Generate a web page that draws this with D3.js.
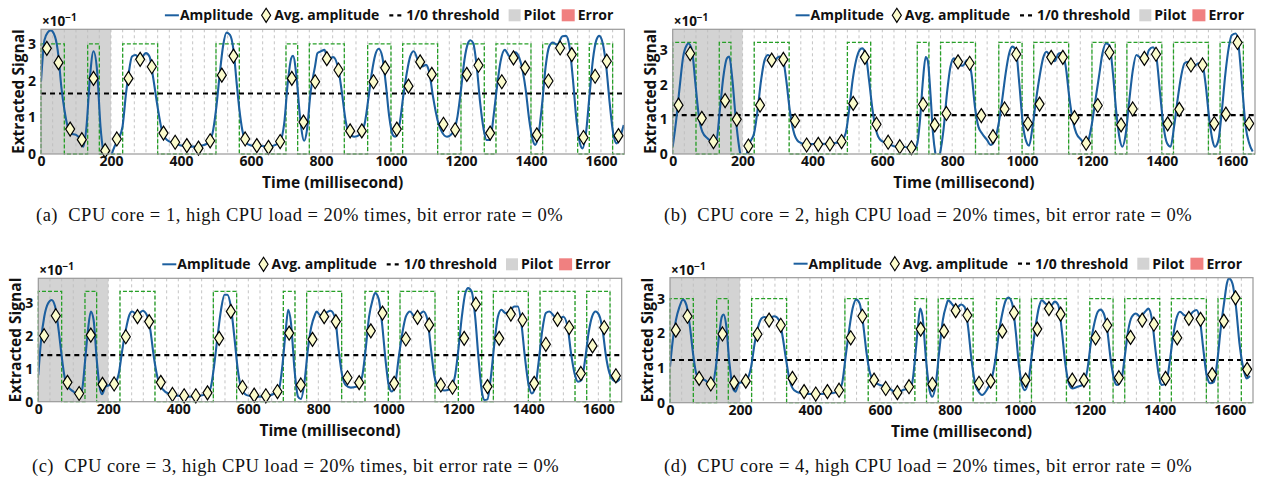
<!DOCTYPE html>
<html><head><meta charset="utf-8">
<script src="https://cdn.jsdelivr.net/npm/d3@7"></script>
<style>
body{margin:0;background:#fff}
svg text{font-family:"Open Sans",Lato,sans-serif;font-weight:bold;fill:#111}
svg text.cap{font-family:"Liberation Serif","DejaVu Serif",serif;font-weight:normal;white-space:pre;letter-spacing:0.5px}
</style></head>
<body><svg id="c" width="1262" height="481"></svg>
<script>
// ---------------- data ----------------
const bitMs = 1000/30;
const xTicks = [0,200,400,600,800,1000,1200,1400,1600];
const yTicks = [0,1,2,3];
const pilotEnd = 200;
const bits = [1,1,0,0,1,0,0,1,1,1, 0,0,0,0,0,1,1,0,0,0, 0,1,0,1,1,1,0,0,1,1, 0,1,1,1,0,0,1,1,0,1, 1,1,0,1,1,1,0,1,1,0];
const captions = [
 "(a)  CPU core = 1, high CPU load = 20% times, bit error rate = 0%",
 "(b)  CPU core = 2, high CPU load = 20% times, bit error rate = 0%",
 "(c)  CPU core = 3, high CPU load = 20% times, bit error rate = 0%",
 "(d)  CPU core = 4, high CPU load = 20% times, bit error rate = 0%"];
const thresholds = [1.65, 1.125, 1.42, 1.23];
const highLevels = [3.0, 3.22, 3.36, 3.0];
const yMax = [3.4, 3.6, 3.76, 3.6];

const avgA = [2.88,2.49,0.68,0.39,2.06,0.09,0.41,2.06,2.58,2.38, 0.57,0.32,0.23,0.16,0.36,2.15,2.67,0.41,0.23,0.18, 0.34,2.06,0.87,1.97,2.6,2.29,0.63,0.63,1.97,2.35, 0.68,1.85,2.51,2.17,0.81,0.66,2.17,2.42,0.57,1.97, 2.62,2.35,0.52,1.99,2.89,2.71,0.45,2.12,2.53,0.5];
const avgB = [1.41,2.9,1.03,0.36,1.54,1.0,0.23,1.41,2.71,2.73, 0.96,0.26,0.28,0.29,0.36,1.46,2.79,0.86,0.34,0.21, 0.18,1.43,0.84,1.17,2.66,2.62,1.11,0.5,1.3,2.88, 0.88,1.44,2.79,2.79,1.05,0.31,1.4,2.93,0.84,1.3, 2.76,2.88,0.87,1.29,2.57,2.57,0.88,1.15,3.22,0.88];
const avgC = [2.01,2.62,0.59,0.25,2.03,0.53,0.54,1.98,2.59,2.44, 0.59,0.22,0.18,0.18,0.27,1.93,2.75,0.44,0.2,0.18, 0.31,2.09,0.51,1.9,2.59,2.44,0.73,0.58,2.16,2.7, 0.56,1.91,2.57,2.34,0.51,0.44,1.93,2.97,0.46,1.93, 2.67,2.49,0.56,1.75,2.51,2.26,0.86,1.7,2.26,0.79];
const avgD = [2.09,2.49,0.7,0.54,1.98,0.58,0.62,1.97,2.38,2.23, 0.7,0.32,0.25,0.32,0.36,1.87,2.49,0.65,0.41,0.29, 0.46,2.12,0.53,2.06,2.65,2.52,0.56,0.62,2.06,2.59, 0.65,2.12,2.71,2.55,0.65,0.65,1.87,2.23,0.72,1.88, 2.38,2.26,0.7,1.87,2.43,2.4,0.81,2.35,3.02,0.96];

const ampA = [[0,1.98],[10,3.11],[20,3.32],[28,3.37],[40,3.2],[50,2.66],[58,1.84],[67,1.2],[75,0.79],[85,0.56],[100,0.52],[110,0.43],[121,0.2],[130,0.75],[140,2.11],[150,2.8],[160,2.3],[170,0.75],[180,-0.07],[190,-0.4],[200,-0.07],[210,0.2],[220,0.38],[233,0.75],[243,1.66],[250,2.16],[260,2.66],[270,2.7],[283,2.59],[300,2.75],[310,2.66],[320,2.11],[333,1.29],[345,0.66],[360,0.38],[380,0.29],[400,0.23],[420,0.2],[440,0.2],[460,0.23],[475,0.29],[490,0.56],[500,1.2],[510,2.11],[520,2.93],[530,3.31],[540,3.25],[550,2.84],[560,1.84],[567,1.2],[575,0.66],[590,0.27],[610,0.22],[630,0.22],[650,0.2],[670,0.25],[685,0.38],[695,0.84],[705,1.93],[715,2.61],[720,2.68],[730,2.11],[740,1.02],[752,0.36],[760,0.66],[770,1.66],[783,2.39],[790,2.75],[800,2.8],[810,2.84],[820,2.57],[835,2.64],[850,2.3],[860,1.66],[870,0.93],[880,0.56],[895,0.47],[910,0.52],[925,0.84],[935,1.48],[945,2.2],[955,2.7],[965,2.87],[975,2.66],[985,1.93],[995,1.02],[1005,0.52],[1012,0.47],[1025,0.84],[1035,1.57],[1045,2.2],[1055,2.66],[1065,2.8],[1080,2.48],[1090,2.39],[1100,2.43],[1110,2.2],[1120,1.57],[1133,0.93],[1145,0.61],[1160,0.47],[1175,0.56],[1190,1.02],[1200,1.75],[1210,2.57],[1220,3.02],[1227,3.1],[1235,3.02],[1245,2.39],[1255,1.38],[1265,0.66],[1273,0.38],[1283,0.38],[1293,1.02],[1303,1.84],[1313,2.52],[1325,2.84],[1340,2.66],[1355,2.77],[1370,2.52],[1385,1.75],[1395,0.93],[1405,0.38],[1412,0.25],[1422,0.56],[1432,1.38],[1442,2.39],[1452,2.93],[1462,3.04],[1475,2.98],[1490,3.21],[1500,3.22],[1510,2.93],[1520,2.02],[1530,0.93],[1540,0.29],[1547,0.15],[1557,0.56],[1567,1.57],[1577,2.57],[1587,3.11],[1595,3.22],[1605,3.02],[1615,2.39],[1625,1.38],[1635,0.56],[1645,0.29],[1655,0.47],[1665,0.79]];
const ampB = [[0,0.21],[10,0.98],[20,1.94],[30,2.81],[40,3.14],[45,3.19],[55,3.0],[65,2.04],[75,1.08],[85,0.64],[100,0.45],[115,0.36],[125,0.4],[135,1.27],[145,2.23],[155,2.76],[162,2.81],[170,2.23],[180,1.08],[190,0.21],[195,-0.08],[205,-0.4],[212,0],[220,0.31],[233,0.6],[243,1.27],[253,2.13],[263,2.71],[273,2.86],[290,2.71],[305,2.81],[315,2.76],[325,2.13],[335,1.27],[345,0.69],[360,0.36],[380,0.29],[420,0.29],[460,0.31],[480,0.36],[495,0.6],[505,1.27],[515,2.13],[525,2.71],[535,3.0],[542,3.05],[552,2.9],[562,2.13],[572,1.27],[582,0.69],[595,0.4],[615,0.31],[640,0.21],[660,0.21],[680,0.16],[690,0.12],[700,0.3],[708,1.0],[716,2.1],[724,2.8],[730,2.7],[738,1.7],[745,0.6],[752,0.0],[758,-0.3],[765,0],[775,0.69],[785,1.75],[795,2.52],[805,2.76],[818,2.57],[830,2.55],[843,2.71],[855,2.33],[865,1.37],[875,0.79],[885,0.6],[900,0.4],[910,0.26],[920,0.36],[933,0.88],[943,1.56],[953,2.33],[963,2.9],[972,3.1],[982,3.0],[992,2.04],[1002,0.88],[1012,0.36],[1020,0.24],[1030,0.79],[1040,1.56],[1050,2.23],[1060,2.76],[1070,2.95],[1083,2.76],[1093,2.68],[1105,2.9],[1115,2.92],[1125,2.52],[1135,1.65],[1145,0.98],[1155,0.6],[1170,0.4],[1180,0.26],[1190,0.4],[1200,0.88],[1210,1.56],[1220,2.23],[1230,2.9],[1240,3.19],[1250,3.14],[1260,2.33],[1270,1.17],[1280,0.4],[1287,0.21],[1297,0.6],[1307,1.56],[1317,2.42],[1327,2.86],[1340,2.76],[1353,2.71],[1363,3.0],[1375,3.08],[1385,2.76],[1395,1.75],[1405,0.79],[1415,0.31],[1425,0.21],[1435,0.79],[1445,1.56],[1455,2.23],[1465,2.62],[1475,2.66],[1490,2.52],[1505,2.62],[1515,2.62],[1525,2.04],[1535,1.08],[1545,0.4],[1552,0.21],[1562,0.4],[1572,1.27],[1582,2.33],[1592,3.1],[1600,3.43],[1612,3.48],[1620,3.1],[1630,1.94],[1640,0.79],[1650,0.31],[1660,0.07]];
const ampC = [[0,0.81],[8,1.88],[17,2.59],[28,3.0],[38,3.1],[48,2.9],[58,2.19],[67,1.37],[75,0.76],[85,0.46],[100,0.31],[115,0.2],[125,0.36],[133,1.17],[142,2.19],[150,2.75],[158,2.49],[167,1.27],[175,0.46],[182,0.23],[192,0.46],[205,0.51],[218,0.56],[230,0.86],[240,1.58],[250,2.19],[260,2.64],[268,2.75],[283,2.64],[298,2.77],[310,2.64],[320,2.19],[330,1.37],[340,0.76],[355,0.38],[375,0.23],[400,0.18],[430,0.15],[460,0.18],[480,0.23],[492,0.41],[502,1.07],[512,1.98],[522,2.8],[532,3.26],[540,3.26],[550,2.9],[560,1.98],[570,0.97],[580,0.41],[595,0.2],[620,0.15],[650,0.17],[675,0.25],[688,0.41],[698,1.17],[707,2.19],[714,2.8],[722,2.39],[732,0.97],[742,0.15],[750,0.08],[760,0.56],[770,1.58],[780,2.29],[790,2.64],[795,2.75],[805,2.64],[820,2.7],[835,2.77],[848,2.54],[858,1.58],[868,0.81],[878,0.51],[893,0.43],[910,0.46],[925,0.76],[935,1.58],[945,2.59],[955,3.1],[962,3.31],[972,3.15],[982,2.39],[992,1.27],[1002,0.46],[1010,0.31],[1020,0.56],[1030,1.37],[1040,2.09],[1050,2.59],[1062,2.75],[1075,2.59],[1088,2.64],[1100,2.75],[1112,2.49],[1122,1.58],[1132,0.76],[1145,0.41],[1160,0.34],[1175,0.38],[1190,0.76],[1200,1.58],[1210,2.59],[1220,3.31],[1228,3.46],[1238,3.36],[1248,2.59],[1258,1.27],[1268,0.25],[1275,0.05],[1283,0.07],[1293,0.76],[1303,1.78],[1313,2.59],[1323,2.8],[1335,2.7],[1350,2.8],[1360,2.9],[1370,2.9],[1380,2.39],[1390,1.37],[1400,0.56],[1410,0.25],[1420,0.46],[1430,1.27],[1440,2.19],[1450,2.7],[1460,2.75],[1475,2.59],[1490,2.54],[1500,2.59],[1512,2.29],[1522,1.47],[1532,0.86],[1542,0.61],[1552,0.66],[1562,1.27],[1572,2.09],[1582,2.59],[1592,2.75],[1602,2.64],[1612,2.19],[1622,1.37],[1632,0.86],[1642,0.66],[1652,0.61],[1662,0.71]];
const ampD = [[0,1.04],[8,1.8],[17,2.38],[27,2.76],[37,2.97],[47,2.81],[57,2.19],[67,1.33],[75,0.84],[85,0.7],[100,0.65],[112,0.56],[122,0.56],[130,0.94],[140,1.9],[148,2.47],[153,2.54],[160,2.28],[170,1.13],[180,0.41],[187,0.32],[197,0.56],[210,0.6],[222,0.7],[232,1.04],[242,1.71],[252,2.19],[262,2.43],[270,2.47],[283,2.43],[298,2.49],[312,2.38],[322,1.9],[332,1.23],[342,0.65],[355,0.36],[375,0.27],[400,0.25],[430,0.25],[460,0.27],[480,0.32],[492,0.56],[502,1.32],[512,2.09],[522,2.71],[532,2.97],[542,2.86],[552,2.28],[562,1.42],[572,0.84],[585,0.6],[600,0.51],[620,0.46],[640,0.32],[650,0.27],[665,0.36],[680,0.41],[692,0.56],[700,1.23],[708,2.09],[715,2.71],[722,2.47],[732,1.23],[742,0.36],[750,0.17],[760,0.56],[770,1.51],[780,2.38],[790,2.81],[795,2.95],[805,2.86],[818,2.71],[832,2.83],[842,2.76],[852,2.19],[862,1.23],[872,0.56],[882,0.32],[892,0.22],[905,0.36],[920,0.7],[930,1.23],[940,1.99],[950,2.57],[960,2.95],[968,3.03],[978,2.86],[988,2.09],[998,1.04],[1008,0.46],[1015,0.36],[1025,0.65],[1035,1.42],[1045,2.19],[1055,2.76],[1063,2.95],[1075,2.84],[1090,2.81],[1100,2.91],[1110,2.81],[1120,2.09],[1130,1.13],[1140,0.56],[1150,0.41],[1165,0.46],[1180,0.51],[1193,0.94],[1203,1.71],[1213,2.28],[1223,2.62],[1230,2.68],[1240,2.57],[1250,2.09],[1260,1.23],[1270,0.65],[1278,0.51],[1290,0.65],[1300,1.32],[1310,2.09],[1320,2.47],[1332,2.57],[1345,2.47],[1358,2.62],[1368,2.71],[1378,2.38],[1388,1.51],[1398,0.75],[1405,0.51],[1418,0.56],[1428,1.13],[1438,1.9],[1448,2.43],[1458,2.62],[1470,2.52],[1482,2.47],[1495,2.62],[1505,2.67],[1515,2.38],[1525,1.51],[1535,0.75],[1545,0.56],[1555,0.6],[1565,1.23],[1575,2.19],[1585,2.95],[1592,3.43],[1598,3.58],[1608,3.43],[1618,2.76],[1628,1.71],[1638,1.04],[1648,0.7],[1658,0.77]];

const legendLabels = ["Amplitude","Avg. amplitude","1/0 threshold","Pilot","Error"];

// ---------------- layout ----------------
const ampSeries = [ampA, ampB, ampC, ampD];
const avgSeries = [avgA, avgB, avgC, avgD];
const boxes = [
  {L:41, T:29.3, R:624.3, B:154, capX:36, capY:215, ylabX:19},
  {L:672.7, T:29.3, R:1255, B:154, capX:664, capY:215, ylabX:651},
  {L:38.3, T:278.3, R:621.7, B:401.7, capX:32, capY:466, ylabX:16},
  {L:670, T:277.7, R:1253, B:402.7, capX:664, capY:466, ylabX:648}
];
const C = {blue:"#1c5f9f", green:"#27a027", diamond:"#fbfbcc", pilot:"#d3d3d3", err:"#f08080", grid:"#bdbdbd", frame:"#9a9a9a"};

const svg = d3.select("#c");
const defs = svg.append("defs");
const diamondPath = "M0,-7L4.5,0L0,7L-4.5,0Z";
const FS = 14;

boxes.forEach((b, i) => {
  const x = d3.scaleLinear().domain([0, bits.length*bitMs]).range([b.L, b.R]);
  const y = d3.scaleLinear().domain([0, yMax[i]]).range([b.B, b.T]);
  const g = svg.append("g");
  defs.append("clipPath").attr("id","clip"+i).append("rect")
    .attr("x", b.L).attr("y", b.T).attr("width", b.R-b.L).attr("height", b.B-b.T);

  g.append("rect").attr("x", x(0)).attr("y", b.T).attr("width", x(pilotEnd)-x(0)).attr("height", b.B-b.T).attr("fill", C.pilot);
  g.append("g").selectAll("line").data(d3.range(1, bits.length)).join("line")
    .attr("x1", k=>x(k*bitMs)).attr("x2", k=>x(k*bitMs)).attr("y1", b.T).attr("y2", b.B)
    .attr("stroke", C.grid).attr("stroke-width", 0.9).attr("stroke-dasharray", "3,3");
  const pts = [[0,0]];
  bits.forEach((v,k)=>{ const lv = v ? highLevels[i] : 0; pts.push([k*bitMs, lv]); pts.push([(k+1)*bitMs, lv]); });
  pts.push([bits.length*bitMs, 0]);
  g.append("path").attr("d", d3.line().x(d=>x(d[0])).y(d=>y(d[1]))(pts))
    .attr("fill","none").attr("stroke", C.green).attr("stroke-width", 1.3).attr("stroke-dasharray","4,2");
  g.append("line").attr("x1", b.L).attr("x2", b.R).attr("y1", y(thresholds[i])).attr("y2", y(thresholds[i]))
    .attr("stroke","#000").attr("stroke-width", 2.2).attr("stroke-dasharray","5,4");
  g.append("path").attr("clip-path", `url(#clip${i})`)
    .attr("d", d3.line().x(d=>x(d[0])).y(d=>y(d[1])).curve(d3.curveMonotoneX)(ampSeries[i]))
    .attr("fill","none").attr("stroke", C.blue).attr("stroke-width", 2.1);
  g.append("g").selectAll("path").data(avgSeries[i]).join("path")
    .attr("d", diamondPath)
    .attr("transform", (v,k)=>`translate(${x((k+0.5)*bitMs)},${y(v)})`)
    .attr("fill", C.diamond).attr("stroke","#000").attr("stroke-width",1.2);
  g.append("rect").attr("x", b.L).attr("y", b.T).attr("width", b.R-b.L).attr("height", b.B-b.T)
    .attr("fill","none").attr("stroke", C.frame).attr("stroke-width", 1.2);

  const ax = g.append("g").attr("transform", `translate(0,${b.B})`)
    .call(d3.axisBottom(x).tickValues(xTicks).tickSize(0).tickPadding(2).tickFormat(d3.format("d")));
  ax.select(".domain").remove();
  ax.selectAll("text").attr("font-size", FS).attr("font-family", null).attr("fill","#111");
  const ay = g.append("g").attr("transform", `translate(${b.L},0)`)
    .call(d3.axisLeft(y).tickValues(yTicks).tickSize(0).tickPadding(5).tickFormat(d3.format("d")));
  ay.select(".domain").remove();
  ay.selectAll("text").attr("font-size", FS).attr("font-family", null).attr("fill","#111");

  const m = g.append("text").attr("x", b.L+1).attr("y", b.T-3).attr("font-size", 13.5).attr("font-weight","normal");
  m.append("tspan").text("×10");
  m.append("tspan").attr("dy", -5).attr("font-size", 10).text("−1");

  g.append("text").attr("x", (b.L+b.R)/2).attr("y", b.B+34).attr("text-anchor","middle").attr("font-size", 15.5)
    .text("Time (millisecond)");
  g.append("text").attr("transform", `translate(${b.ylabX},${(b.T+b.B)/2}) rotate(-90)`)
    .attr("text-anchor","middle").attr("dy","0.35em").attr("font-size", 15.5).text("Extracted Signal");

  const lg = g.append("g");
  const ly = b.T - 14;
  let cx = 0;
  lg.append("line").attr("x1", cx).attr("x2", cx+14).attr("y1", ly).attr("y2", ly).attr("stroke", C.blue).attr("stroke-width", 2);
  cx += 15;
  let t = lg.append("text").attr("x", cx).attr("y", ly).attr("dy","0.35em").attr("font-size", FS).text(legendLabels[0]);
  cx += t.node().getComputedTextLength() + 13;
  lg.append("path").attr("d", diamondPath).attr("transform", `translate(${cx},${ly})`).attr("fill", C.diamond).attr("stroke","#000").attr("stroke-width",1.2);
  cx += 8;
  t = lg.append("text").attr("x", cx).attr("y", ly).attr("dy","0.35em").attr("font-size", FS).text(legendLabels[1]);
  cx += t.node().getComputedTextLength() + 10;
  lg.append("line").attr("x1", cx).attr("x2", cx+13).attr("y1", ly).attr("y2", ly).attr("stroke","#000").attr("stroke-width", 2.2).attr("stroke-dasharray","4,4");
  cx += 17;
  t = lg.append("text").attr("x", cx).attr("y", ly).attr("dy","0.35em").attr("font-size", FS).text(legendLabels[2]);
  cx += t.node().getComputedTextLength() + 9;
  lg.append("rect").attr("x", cx).attr("y", ly-6).attr("width", 12).attr("height", 12).attr("fill", C.pilot);
  cx += 15;
  t = lg.append("text").attr("x", cx).attr("y", ly).attr("dy","0.35em").attr("font-size", FS).text(legendLabels[3]);
  cx += t.node().getComputedTextLength() + 6;
  lg.append("rect").attr("x", cx).attr("y", ly-6).attr("width", 13).attr("height", 12).attr("fill", C.err);
  cx += 16;
  t = lg.append("text").attr("x", cx).attr("y", ly).attr("dy","0.35em").attr("font-size", FS).text(legendLabels[4]);
  cx += t.node().getComputedTextLength();
  lg.attr("transform", `translate(${b.R - 11 - cx},0)`);

  svg.append("text").attr("class","cap").attr("x", b.capX).attr("y", b.capY).attr("dy","0.35em")
    .attr("font-size", 18.5).text(captions[i]);
});
</script></body></html>
